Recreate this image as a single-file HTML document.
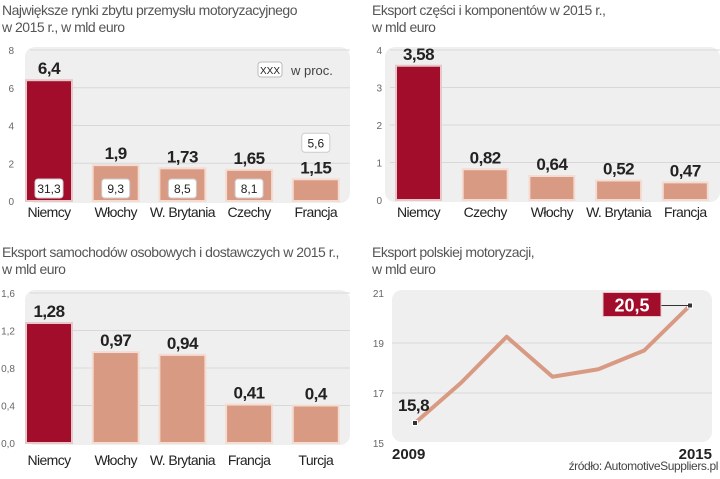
<!DOCTYPE html>
<html><head><meta charset="utf-8"><style>
body{margin:0;background:#fff;width:720px;height:474px;overflow:hidden;font-family:"Liberation Sans",sans-serif}
svg text{font-family:"Liberation Sans",sans-serif}
.t{font-size:14px;fill:#555;letter-spacing:-0.5px}
.tk{font-size:10px;fill:#666}
.cat{font-size:14px;fill:#222;letter-spacing:-0.6px}
.val{font-size:17px;font-weight:bold;fill:#222;letter-spacing:-0.5px}
</style></head><body>
<svg id="c" width="720" height="474" xmlns="http://www.w3.org/2000/svg">
<text class="t" x="2" y="15">Największe rynki zbytu przemysłu motoryzacyjnego</text>
<text class="t" x="2" y="32">w 2015 r., w mld euro</text>
<text class="t" x="372" y="15">Eksport części i komponentów w 2015 r.,</text>
<text class="t" x="372" y="32">w mld euro</text>
<text class="t" x="2" y="257">Eksport samochodów osobowych i dostawczych w 2015 r.,</text>
<text class="t" x="2" y="274">w mld euro</text>
<text class="t" x="372" y="257">Eksport polskiej motoryzacji,</text>
<text class="t" x="372" y="274">w mld euro</text>
<text x="718" y="470" text-anchor="end" style="font-size:12px;fill:#444;letter-spacing:-0.4px">źródło: AutomotiveSuppliers.pl</text>
</svg>
<script>
const c1Cats=["Niemcy","Włochy","W. Brytania","Czechy","Francja"];
const c1Vals=[6.4,1.9,1.73,1.65,1.15];
const c1Labels=["6,4","1,9","1,73","1,65","1,15"];
const c1Pct=["31,3","9,3","8,5","8,1","5,6"];
const c1Ticks=[0,2,4,6,8];
const c2Cats=["Niemcy","Czechy","Włochy","W. Brytania","Francja"];
const c2Vals=[3.58,0.82,0.64,0.52,0.47];
const c2Labels=["3,58","0,82","0,64","0,52","0,47"];
const c2Ticks=[0,1,2,3,4];
const c3Cats=["Niemcy","Włochy","W. Brytania","Francja","Turcja"];
const c3Vals=[1.28,0.97,0.94,0.41,0.4];
const c3Labels=["1,28","0,97","0,94","0,41","0,4"];
const c3Ticks=[0,0.4,0.8,1.2,1.6];
const c3TickLabels=["0,0","0,4","0,8","1,2","1,6"];
const c4Years=[2009,2010,2011,2012,2013,2014,2015];
const c4Vals=[15.8,17.4,19.25,17.65,17.95,18.7,20.5];
const c4Ticks=[15,17,19,21];

const svg=document.getElementById('c');
const NS='http://www.w3.org/2000/svg';
function mk(tag,attrs,text){const e=document.createElementNS(NS,tag);for(const k in attrs)e.setAttribute(k,attrs[k]);if(text!==undefined)e.textContent=text;svg.appendChild(e);return e;}

function barChart(p,cats,vals,labels,ticks,tickLabels,pct){
  const y=v=>p.y0-(v-ticks[0])/(ticks[ticks.length-1]-ticks[0])*(p.y0-p.y1);
  let bg=mk('rect',{x:p.bx,y:p.y1-3,width:p.bw,height:p.y0-p.y1+5,rx:10,fill:'#efefef'});
  
  
  ticks.forEach((t,i)=>{
    if(i>0){let g=mk('line',{x1:p.bx+5,x2:p.bx+p.bw,y1:y(t),y2:y(t),stroke:'#d8d8d8'});
    
    }
    let tx=mk('text',{class:'tk',x:p.tx,y:y(t)+4,'text-anchor':'end'},tickLabels?tickLabels[i]:String(t));
    
    
  });
  cats.forEach((c,i)=>{
    const cx=p.x0+i*p.step, top=y(vals[i]);
    const fill=i===0?'#a30d2c':'#d99a83';
    let r=mk('rect',{x:cx-p.w/2,y:top,width:p.w,height:p.y0-top,fill:fill,stroke:i===0?'#e7c7c7':'#f5dcd2','stroke-width':2});
    
    
    let v=mk('text',{class:'val',x:cx,y:top-6,'text-anchor':'middle'},labels[i]);
    
    
    let l=mk('text',{class:'cat',x:cx,y:p.ly,'text-anchor':'middle'},c);
    
    
    if(pct){
      let bxy=i===4?top-46:p.y0-22;
      let b=mk('rect',{x:cx-14,y:bxy,width:28,height:19,rx:3,fill:'#fff',stroke:'#ccc'});
      
      
      let bt=mk('text',{x:cx,y:bxy+14,'text-anchor':'middle',style:'font-size:12px;fill:#222'},pct[i]);
      
      
    }
  });
}
barChart({id:'chart1',x0:49,step:66.7,w:46,y0:201,y1:50,bx:25,bw:325,tx:14,ly:217},c1Cats,c1Vals,c1Labels,c1Ticks,null,c1Pct);
barChart({id:'chart2',x0:418.5,step:66.7,w:45,y0:200,y1:50,bx:385,bw:335,tx:382,ly:217},c2Cats,c2Vals,c2Labels,c2Ticks,null,null);
barChart({id:'chart3',x0:49,step:66.7,w:46,y0:443,y1:293,bx:25,bw:325,tx:15,ly:465},c3Cats,c3Vals,c3Labels,c3Ticks,c3TickLabels,null);

let lb=mk('rect',{x:258,y:62,width:24,height:15,rx:3,fill:'#fff',stroke:'#bbb'});


let lt=mk('text',{x:270,y:74,'text-anchor':'middle',style:'font-size:10px;fill:#222'},'XXX');


let lt2=mk('text',{x:291,y:75,style:'font-size:13px;fill:#444'},'w proc.');



const lx=yr=>415+(yr-c4Years[0])/(c4Years[c4Years.length-1]-c4Years[0])*275;
const ly=v=>443-(v-15)/(21-15)*150;
let bg4=mk('rect',{x:392,y:290,width:320,height:152,rx:10,fill:'#efefef'});


c4Ticks.forEach(t=>{
  if(t>15&&t<21){let g=mk('line',{x1:392,x2:712,y1:ly(t),y2:ly(t),stroke:'#d8d8d8'});
  
  }
  let tx=mk('text',{class:'tk',x:384,y:ly(t)+4,'text-anchor':'end'},String(t));
  
  
});
let pts=c4Years.map((yr,i)=>lx(yr)+','+ly(c4Vals[i])).join(' ');
let pl=mk('polyline',{points:pts,fill:'none',stroke:'#d99a83','stroke-width':4,'stroke-linejoin':'round'});


[0,c4Years.length-1].forEach(i=>{
  let d=mk('rect',{x:lx(c4Years[i])-2.5,y:ly(c4Vals[i])-2.5,width:5,height:5,fill:'#333',stroke:'#fff'});
  
  
});
const last=c4Years.length-1;
let cl=mk('line',{x1:660,x2:lx(c4Years[last]),y1:ly(c4Vals[last]),y2:ly(c4Vals[last]),stroke:'#333'});


let cb=mk('rect',{x:603,y:ly(c4Vals[last])-13,width:58,height:24,fill:'#a30d2c',stroke:'#e7c7c7'});


let ct=mk('text',{x:632,y:ly(c4Vals[last])+6,'text-anchor':'middle',style:'font-size:18px;font-weight:bold;fill:#fff'},'20,5');


let ft=mk('text',{class:'val',x:398,y:ly(c4Vals[0])-12},'15,8');


[[0,'start'],[last,'end']].forEach(([i,a])=>{
  let t=mk('text',{x:i===0?392:712,y:459,'text-anchor':a,style:'font-size:15px;font-weight:bold;fill:#222'},String(c4Years[i]));
  
  
});
</script>
</body></html>
